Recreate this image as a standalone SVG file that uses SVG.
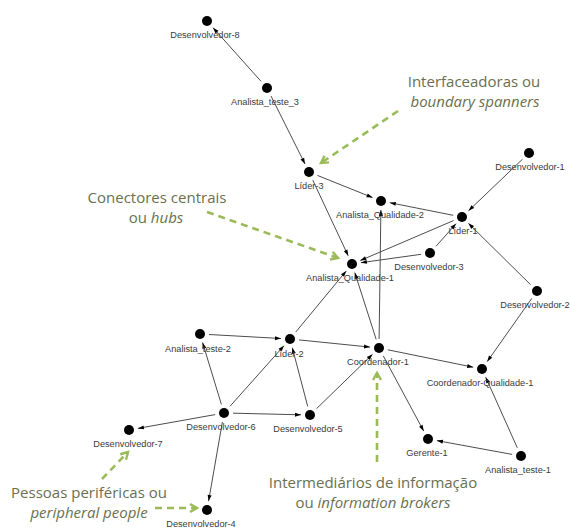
<svg xmlns="http://www.w3.org/2000/svg" width="570" height="528" viewBox="0 0 570 528">
<style>
.e{stroke:#4d4d4d;stroke-width:1;fill:none;marker-end:url(#ah)}
.n circle{fill:#000}
.n text{font-family:"Liberation Sans",Arial,sans-serif;font-size:9.2px;fill:#3a3a3a;text-anchor:middle}
.g{stroke:#9bbb59;stroke-width:2.6;fill:none;stroke-dasharray:7 5;marker-end:url(#gh)}
.t{font-family:"Open Sans","Liberation Sans",sans-serif;font-size:15px;fill:#6a6f4f;text-anchor:middle}
.t tspan.i{font-style:italic}
</style>
<defs>
<marker id="ah" markerUnits="userSpaceOnUse" markerWidth="6" markerHeight="4" refX="6" refY="2" orient="auto" overflow="visible">
<path d="M0,0 L6,2 L0,4 z" fill="#000"/>
</marker>
<marker id="gh" markerUnits="userSpaceOnUse" markerWidth="10" markerHeight="10" refX="8" refY="5" orient="auto" overflow="visible">
<path d="M1,1 L8,5 L1,9" fill="none" stroke="#9bbb59" stroke-width="2.4"/>
</marker>
</defs>
<rect width="570" height="528" fill="#fff"/>
<g id="connectors">
<line class="e" x1="261.0" y1="81.3" x2="213.0" y2="27.7"/>
<line class="e" x1="271.0" y1="96.0" x2="305.0" y2="164.0"/>
<line class="e" x1="317.4" y1="175.4" x2="372.6" y2="197.6"/>
<line class="e" x1="312.8" y1="180.2" x2="348.2" y2="255.8"/>
<line class="e" x1="453.2" y1="215.3" x2="389.8" y2="202.7"/>
<line class="e" x1="522.5" y1="159.2" x2="468.5" y2="210.8"/>
<line class="e" x1="453.7" y1="220.5" x2="360.3" y2="260.5"/>
<line class="e" x1="421.1" y1="254.3" x2="360.9" y2="262.7"/>
<line class="e" x1="436.0" y1="246.3" x2="456.0" y2="223.7"/>
<line class="e" x1="530.6" y1="284.7" x2="468.4" y2="223.3"/>
<line class="e" x1="531.8" y1="298.4" x2="487.2" y2="361.6"/>
<line class="e" x1="387.8" y1="349.8" x2="473.2" y2="367.2"/>
<line class="e" x1="517.3" y1="447.8" x2="485.7" y2="377.2"/>
<line class="e" x1="383.3" y1="355.9" x2="423.7" y2="431.1"/>
<line class="e" x1="512.1" y1="454.4" x2="436.9" y2="440.6"/>
<line class="e" x1="379.1" y1="339.0" x2="380.9" y2="210.0"/>
<line class="e" x1="295.7" y1="332.1" x2="346.3" y2="270.9"/>
<line class="e" x1="376.2" y1="339.4" x2="354.8" y2="272.6"/>
<line class="e" x1="209.0" y1="334.5" x2="281.0" y2="338.5"/>
<line class="e" x1="299.0" y1="339.9" x2="370.0" y2="347.1"/>
<line class="e" x1="221.4" y1="404.4" x2="202.6" y2="342.6"/>
<line class="e" x1="230.0" y1="406.3" x2="284.0" y2="345.7"/>
<line class="e" x1="307.7" y1="406.3" x2="292.3" y2="347.7"/>
<line class="e" x1="316.5" y1="408.7" x2="372.5" y2="354.3"/>
<line class="e" x1="233.0" y1="413.2" x2="301.0" y2="414.8"/>
<line class="e" x1="215.1" y1="414.6" x2="137.9" y2="428.4"/>
<line class="e" x1="222.4" y1="421.9" x2="208.6" y2="501.1"/>
</g>
<g id="Desenvolvedor-8" class="n"><circle cx="207" cy="21" r="5"/><text x="205" y="38">Desenvolvedor-8</text></g>
<g id="Analista_teste_3" class="n"><circle cx="267" cy="88" r="5"/><text x="265" y="105">Analista_teste_3</text></g>
<g id="Lider-3" class="n"><circle cx="309" cy="172" r="5"/><text x="309" y="189">Líder-3</text></g>
<g id="Analista_Qualidade-2" class="n"><circle cx="381" cy="201" r="5"/><text x="380" y="218">Analista_Qualidade-2</text></g>
<g id="Lider-1" class="n"><circle cx="462" cy="217" r="5"/><text x="463" y="234">Líder-1</text></g>
<g id="Desenvolvedor-1" class="n"><circle cx="529" cy="153" r="5"/><text x="530" y="170">Desenvolvedor-1</text></g>
<g id="Desenvolvedor-3" class="n"><circle cx="430" cy="253" r="5"/><text x="429" y="270">Desenvolvedor-3</text></g>
<g id="Analista_Qualidade-1" class="n"><circle cx="352" cy="264" r="5"/><text x="350" y="281">Analista_Qualidade-1</text></g>
<g id="Desenvolvedor-2" class="n"><circle cx="537" cy="291" r="5"/><text x="535" y="308">Desenvolvedor-2</text></g>
<g id="Coordenador-Qualidade-1" class="n"><circle cx="482" cy="369" r="5"/><text x="480" y="386">Coordenador-Qualidade-1</text></g>
<g id="Coordenador-1" class="n"><circle cx="379" cy="348" r="5"/><text x="378" y="365">Coordenador-1</text></g>
<g id="Lider-2" class="n"><circle cx="290" cy="339" r="5"/><text x="289" y="357">Líder-2</text></g>
<g id="Analista_teste-2" class="n"><circle cx="200" cy="334" r="5"/><text x="198" y="352">Analista_teste-2</text></g>
<g id="Desenvolvedor-6" class="n"><circle cx="224" cy="413" r="5"/><text x="221" y="430">Desenvolvedor-6</text></g>
<g id="Desenvolvedor-5" class="n"><circle cx="310" cy="415" r="5"/><text x="308" y="432">Desenvolvedor-5</text></g>
<g id="Desenvolvedor-7" class="n"><circle cx="129" cy="430" r="5"/><text x="128" y="447">Desenvolvedor-7</text></g>
<g id="Desenvolvedor-4" class="n"><circle cx="207" cy="510" r="5"/><text x="201" y="527">Desenvolvedor-4</text></g>
<g id="Gerente-1" class="n"><circle cx="428" cy="439" r="5"/><text x="427" y="456">Gerente-1</text></g>
<g id="Analista_teste-1" class="n"><circle cx="521" cy="456" r="5"/><text x="518" y="473">Analista_teste-1</text></g>
<g id="ann-boundary">
<line class="g" x1="398" y1="111" x2="321" y2="163"/>
<text class="t" x="474" y="87">Interfaceadoras ou</text>
<text class="t" x="475" y="107"><tspan class="i">boundary spanners</tspan></text>
</g>
<g id="ann-hubs">
<line class="g" x1="207" y1="212" x2="338" y2="258"/>
<text class="t" x="157" y="203">Conectores centrais</text>
<text class="t" x="156" y="223">ou <tspan class="i">hubs</tspan></text>
</g>
<g id="ann-brokers">
<line class="g" x1="377" y1="462" x2="377" y2="373"/>
<text class="t" x="373" y="488">Intermediários de informação</text>
<text class="t" x="373" y="508">ou <tspan class="i">information brokers</tspan></text>
</g>
<g id="ann-peripheral">
<line class="g" x1="102" y1="479" x2="128" y2="452"/>
<line class="g" x1="155" y1="508" x2="197" y2="508"/>
<text class="t" x="89" y="498">Pessoas periféricas ou</text>
<text class="t" x="89" y="518"><tspan class="i">peripheral people</tspan></text>
</g>
</svg>
